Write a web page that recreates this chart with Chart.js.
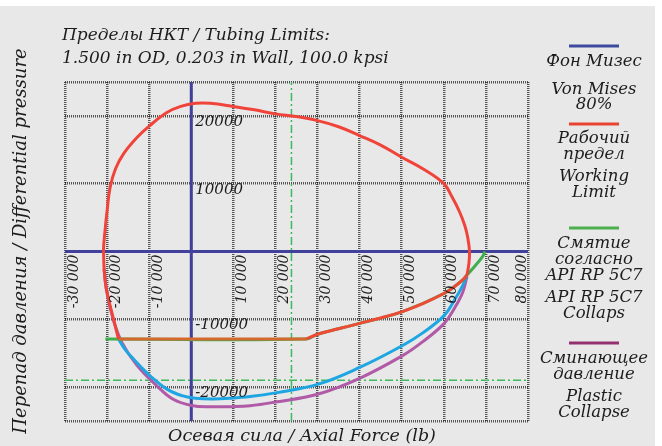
<!DOCTYPE html>
<html>
<head>
<meta charset="utf-8">
<script src="https://cdn.jsdelivr.net/npm/chart.js@4.4.0/dist/chart.umd.min.js"></script>
<style>
  html, body { margin: 0; padding: 0; background: #fff; }
  #wrap { position: relative; width: 662px; height: 446px; }
  #panel { position: absolute; left: 0; top: 6px; width: 655px; height: 440px; background: #e8e8e8; }
  canvas { position: absolute; left: 0; top: 0; }
</style>
</head>
<body>
<div id="wrap">
  <div id="panel"></div>
  <canvas id="chart" width="662" height="446"></canvas>
</div>
<script>
// сетка и подписи осей
const xGrid = [-30000, -20000, -10000, 0, 10000, 20000, 30000, 40000, 50000, 60000, 70000, 80000];
const yGrid = [-25000, -20000, -10000, 0, 10000, 20000, 25000];
const xLabelVals = [-30000, -20000, -10000, 10000, 20000, 30000, 40000, 50000, 60000, 70000, 80000];
const xLabels = ['-30 000', '-20 000', '-10 000', '10 000', '20 000', '30 000', '40 000', '50 000', '60 000', '70 000', '80 000'];
const yLabelVals = [20000, 10000, -10000, -20000];
const yLabels = ['20000', '10000', '-10000', '-20000'];

// Рабочий предел (Von Mises 80%) - эллипс
const wlX = [65500, 65950, 66100, 65700, 65000, 63700, 62000, 60000, 55000, 50000, 45000, 40000, 35000, 30000, 25000, 20000, 15000, 10000, 4500, 1000, -2500, -5800, -9800, -12900, -16100, -18000, -19300, -20000, -20500, -20850, -20450, -19700, -18500, -17300];
const wlY = [-3500, -1800, 0, 2000, 3800, 5900, 8000, 10000, 12200, 13900, 15700, 17100, 18400, 19300, 19900, 20300, 20900, 21400, 21850, 21850, 21400, 20500, 18600, 16800, 14400, 12200, 9400, 6000, 3000, 0, -4400, -6900, -9900, -12900];
// Рабочий предел - нижняя ветвь
const wlLowX = [27350, 30000, 35000, 40000, 45000, 50000, 55000, 60000, 62500, 64500, 65500];
const wlLowY = [-12900, -12200, -11400, -10600, -9800, -8900, -7700, -6200, -5200, -4200, -3500];
// горизонтальный участок
const flatX = [-17300, 27350];
const flatY = [-12900, -12900];

// API RP 5C7 Collapse
const apiX = [-20400, 27350, 30000, 40000, 50000, 60000, 64500, 65300, 67600, 69200, 69800];
const apiY = [-12900, -12900, -12200, -10600, -8900, -6200, -4200, -3600, -2000, -750, 0];

// голубая кривая
const cyanX = [-17300, -16000, -14500, -12000, -9800, -5800, -2000, 1000, 5000, 9200, 14000, 20000, 30000, 40000, 50100, 55000, 60000, 62500, 64500, 65500];
const cyanY = [-12900, -14200, -15350, -17000, -18330, -20300, -21300, -21650, -21750, -21650, -21400, -20850, -19600, -17100, -13900, -12000, -9500, -7200, -5000, -3500];

// Plastic Collapse
const plX = [-20750, -20400, -20050, -19200, -18300, -16500, -12900, -8200, -4300, 0, 5000, 9200, 14000, 20000, 30000, 40000, 50100, 55000, 60100, 62500, 64500, 65500];
const plY = [-2500, -4500, -6000, -8500, -10500, -13400, -16800, -19800, -21800, -22700, -22900, -22880, -22750, -22200, -21050, -18700, -15400, -13300, -10600, -8400, -6000, -3700];

// оси x=0 / y=0 и штрихпунктирные линии
const axisHX = [-30000, 80000], axisHY = [0, 0];
const axisVX = [0, 0], axisVY = [-25000, 25000];
const ddVX = [23800, 23800], ddVY = [-25000, 25000];
const ddHX = [-30000, 80000], ddHY = [-19000, -19000];

const pts = (xs, ys) => xs.map((v, i) => ({ x: v, y: ys[i] }));
const FONT = '"DejaVu Serif", serif';

function line(data, color, width, order, extra) {
    return Object.assign({
        data: data,
        borderColor: color,
        backgroundColor: color,
        borderWidth: width,
        pointRadius: 0,
        tension: 0.4,
        fill: false,
        order: order
    }, extra || {});
}

const legendLines = [
    { y: 46, color: '#3d4a9e' },
    { y: 124, color: '#e8432f' },
    { y: 228, color: '#4cae4c' },
    { y: 343, color: '#933070' }
];
const legendTexts = [
    [62, 'Фон Мизес'], [90, 'Von Mises'], [105, '80%'],
    [139, 'Рабочий'], [155, 'предел'], [177, 'Working'], [193, 'Limit'],
    [244, 'Смятие'], [260, 'согласно'], [276, 'API RP 5C7'],
    [298, 'API RP 5C7'], [314, 'Collaps'],
    [359, 'Сминающее'], [375, 'давление'], [397, 'Plastic'], [413, 'Collapse']
];

const textPlugin = {
    id: 'texts',
    afterDatasetsDraw(chart) {
        const { ctx, chartArea: a, scales: { x, y } } = chart;
        ctx.save();
        ctx.fillStyle = '#1c1c1c';

        // подписи оси X (повернутые)
        ctx.font = 'italic 14px ' + FONT;
        const y0 = y.getPixelForValue(0);
        xLabelVals.forEach((v, i) => {
            const px = Math.min(x.getPixelForValue(v) + 9, a.right - 6);
            ctx.save();
            ctx.translate(px, y0 + 3);
            ctx.rotate(-Math.PI / 2);
            ctx.textAlign = 'right';
            ctx.textBaseline = 'middle';
            ctx.fillText(xLabels[i], 0, 0);
            ctx.restore();
        });

        // подписи оси Y
        ctx.font = 'italic 15px ' + FONT;
        ctx.textAlign = 'left';
        ctx.textBaseline = 'middle';
        const x0 = x.getPixelForValue(0);
        yLabelVals.forEach((v, i) => {
            ctx.fillText(yLabels[i], x0 + 4, y.getPixelForValue(v) + 6);
        });

        // заголовок
        ctx.font = 'italic 17px ' + FONT;
        ctx.textBaseline = 'alphabetic';
        ctx.fillText('Пределы НКТ / Tubing Limits:', 62, 40);
        ctx.fillText('1.500 in OD, 0.203 in Wall, 100.0 kpsi', 62, 63);

        // названия осей
        ctx.textAlign = 'center';
        ctx.font = 'italic 17.5px ' + FONT;
        ctx.fillText('Осевая сила / Axial Force (lb)', 302, 441);
        ctx.save();
        ctx.translate(26, 241);
        ctx.rotate(-Math.PI / 2);
        ctx.font = 'italic 18px ' + FONT;
        ctx.fillText('Перепад давления / Differential pressure', 0, 0);
        ctx.restore();

        // легенда
        legendLines.forEach(l => {
            ctx.fillStyle = l.color;
            ctx.fillRect(569, l.y - 1.5, 50, 3);
        });
        ctx.fillStyle = '#1c1c1c';
        ctx.font = 'italic 16.5px ' + FONT;
        ctx.textBaseline = 'middle';
        legendTexts.forEach(t => ctx.fillText(t[1], 594, t[0]));
        ctx.restore();
    }
};

const gridStyle = {
    color: 'rgba(20,20,20,0.7)',
    lineWidth: 2.5,
    drawTicks: false
};

new Chart(document.getElementById('chart'), {
    type: 'line',
    data: {
        datasets: [
            line(pts(wlX, wlY), '#f0443a', 3, 1),
            line(pts(wlLowX, wlLowY), '#ee4a36', 3, 1),
            line(pts(flatX, flatY), '#d4682f', 3, 2, { tension: 0 }),
            line(pts(apiX, apiY), '#3fae4c', 3, 3),
            line(pts(cyanX, cyanY), '#1ea6e2', 3, 4),
            line(pts(plX, plY), '#b05aa8', 3, 5),
            line(pts(axisHX, axisHY), '#41419c', 3, 6, { tension: 0 }),
            line(pts(axisVX, axisVY), '#41419c', 3, 6, { tension: 0 }),
            line(pts(ddVX, ddVY), '#3dba5c', 1.5, 7, { tension: 0, borderDash: [8, 3, 2, 3] }),
            line(pts(ddHX, ddHY), '#3dba5c', 1.5, 7, { tension: 0, borderDash: [8, 3, 2, 3] })
        ]
    },
    options: {
        responsive: false,
        animation: false,
        layout: { padding: { left: 65, right: 134, top: 82, bottom: 25 } },
        plugins: { legend: { display: false }, tooltip: { enabled: false }, title: { display: false } },
        scales: {
            x: {
                type: 'linear', min: -30000, max: 80000,
                afterBuildTicks: s => { s.ticks = xGrid.map(v => ({ value: v })); },
                afterFit: s => { s.height = 0; },
                ticks: { display: false },
                grid: gridStyle,
                border: { display: false, dash: [1, 1] }
            },
            y: {
                type: 'linear', min: -25000, max: 25000,
                afterBuildTicks: s => { s.ticks = yGrid.map(v => ({ value: v })); },
                afterFit: s => { s.width = 0; },
                ticks: { display: false },
                grid: gridStyle,
                border: { display: false, dash: [1, 1] }
            }
        }
    },
    plugins: [textPlugin]
});
</script>
</body>
</html>
